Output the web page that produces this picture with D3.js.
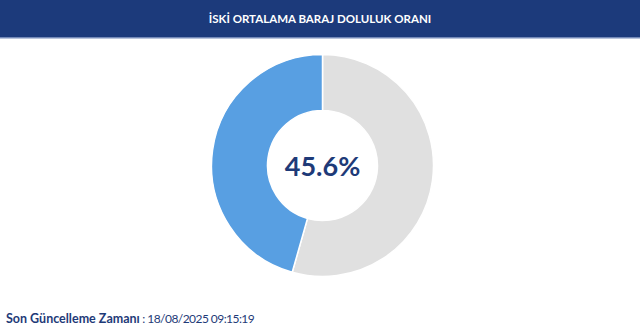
<!DOCTYPE html>
<html>
<head>
<meta charset="utf-8">
<script src="https://cdn.jsdelivr.net/npm/d3@7"></script>
<style>
html,body{margin:0;padding:0;background:#fff;}
svg{display:block;}
</style>
</head>
<body>
<script>
const title = "İSKİ ORTALAMA BARAJ DOLULUK ORANI";
const categories = ["Boş", "Dolu"];
const values = [54.4, 45.6];
const colors = ["#e0e0e0", "#589fe2"];
const centerLabel = "45.6%";
const footerLabel = "Son Güncelleme Zamanı";
const footerValue = " : 18/08/2025 09:15:19";

const W = 640, H = 334;
const svg = d3.select("body").append("svg").attr("width", W).attr("height", H);

svg.append("rect").attr("x",0).attr("y",0).attr("width",W).attr("height",37).attr("fill","#1c3a7b");
svg.append("rect").attr("x",0).attr("y",37).attr("width",W).attr("height",1.5).attr("fill","#7489b8");
svg.append("text").attr("x",W/2).attr("y",22.5).attr("text-anchor","middle")
  .attr("fill","#fff").attr("font-family","Lato, 'Open Sans', sans-serif")
  .attr("font-weight","bold").attr("font-size",11.5).text(title);

const cx = 322.5, cy = 165.5, R = 111, r = 55;
const pie = d3.pie().sort(null).value(d => d);
const arc = d3.arc().innerRadius(r).outerRadius(R);
const g = svg.append("g").attr("transform",`translate(${cx},${cy})`);
g.selectAll("path").data(pie(values)).enter().append("path")
  .attr("d", arc).attr("fill",(d,i)=>colors[i])
  .attr("stroke","#fff").attr("stroke-width",1.5);

g.append("text").attr("x",0).attr("y",10).attr("text-anchor","middle")
  .attr("fill","#1e3a78").attr("font-family","Lato, 'Open Sans', sans-serif")
  .attr("font-weight","bold").attr("font-size",27).text(centerLabel);

const ft = svg.append("text").attr("x",6).attr("y",323)
  .attr("font-family","Lato, 'Open Sans', sans-serif").attr("font-size",12.5).attr("fill","#1e3a78");
ft.append("tspan").attr("font-weight","bold").text(footerLabel);
ft.append("tspan").attr("fill","#1e3a78").attr("font-size",12).attr("letter-spacing",-0.55).text(footerValue);
</script>
</body>
</html>
